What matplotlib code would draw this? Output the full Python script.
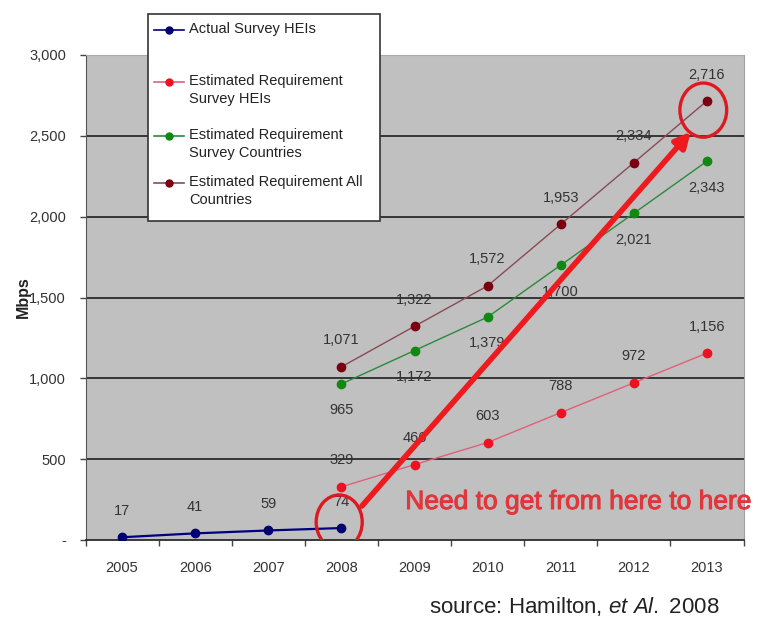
import matplotlib
matplotlib.use('Agg')
import matplotlib.pyplot as plt
import matplotlib.ticker as mtick
import matplotlib.patheffects as pe
from matplotlib.patches import Ellipse, Rectangle
from matplotlib.lines import Line2D

plt.rcParams['font.family'] = ['Liberation Sans', 'DejaVu Sans']
plt.rcParams['mathtext.fontset'] = 'custom'
plt.rcParams['mathtext.rm'] = 'Liberation Sans'
plt.rcParams['mathtext.it'] = 'Liberation Sans:italic'

# años y series (Mbps)
anios = ['2005', '2006', '2007', '2008', '2009', '2010', '2011', '2012', '2013']
actual_heis = [17, 41, 59, 74]                      # 2005-2008
req_heis = [329, 466, 603, 788, 972, 1156]          # 2008-2013
req_paises_encuesta = [965, 1172, 1379, 1700, 2021, 2343]
req_todos_paises = [1071, 1322, 1572, 1953, 2334, 2716]

etiquetas_leyenda = ['Actual Survey HEIs',
                     'Estimated Requirement\nSurvey HEIs',
                     'Estimated Requirement\nSurvey Countries',
                     'Estimated Requirement All\nCountries']

x_act = list(range(0, 4))
x_est = list(range(3, 9))

fig = plt.figure(figsize=(7.63, 6.2), dpi=100)
ax = fig.add_axes([85.5 / 763, 80 / 620, 658 / 763, 485 / 620])
ax.set_facecolor('#c0c0c0')

# líneas de las series
series = [
    (x_act, actual_heis, '#000080', '#000070', 'above'),
    (x_est, req_heis, '#e0607a', '#ee1122', 'above'),
    (x_est, req_paises_encuesta, '#2a8a3a', '#118811', 'below'),
    (x_est, req_todos_paises, '#8a4a55', '#7a0010', 'above'),
]
for xs, ys, c_line, c_mark, pos in series:
    lw = 1.6 if c_line == '#000080' else 1.0
    ax.plot(xs, ys, color=c_line, lw=lw, zorder=3)
    ax.plot(xs, ys, ls='none', marker='o', ms=6, color=c_mark, zorder=4)
    for xi, yi in zip(xs, ys):
        dy = 19 if pos == 'above' else -19
        ax.annotate(f'{yi:,}', (xi, yi), xytext=(0, dy), textcoords='offset points',
                    ha='center', va='center', fontsize=10.5, color='#333333', zorder=5)

# ejes
ax.set_xlim(-0.5, 8.5)
ax.set_ylim(0, 3000)
ax.set_xticks(range(len(anios)))
ax.set_xticklabels(anios)
ax.set_xticks([i + 0.5 for i in range(-1, 9)], minor=True)
ax.tick_params(axis='x', which='major', length=0, pad=15, labelsize=10.5, labelcolor='#333333')
ax.tick_params(axis='x', which='minor', length=4, width=1, color='#444444', direction='out')
ax.set_yticks(range(0, 3001, 500))
ax.yaxis.set_major_formatter(mtick.FuncFormatter(lambda v, p: '-' if v == 0 else format(int(v), ',')))
ax.tick_params(axis='y', length=4, width=1, color='#444444', pad=10, labelsize=10.5, labelcolor='#333333')
for v in range(500, 3000, 500):
    ax.axhline(v, color='#2b2b2b', lw=1.3, zorder=1)
ax.spines['bottom'].set_color('#2b2b2b')
ax.spines['bottom'].set_linewidth(1.3)
ax.spines['left'].set_color('#555555')
ax.spines['top'].set_color('#a8a8a8')
ax.spines['right'].set_color('#a0a0a0')
fig.text(23 / 763, 1 - 297 / 620, 'Mbps', rotation=90, ha='center', va='center',
         fontsize=11.5, fontweight='bold', color='#222222')

# círculos y flecha de la anotación
rojo = '#ee1a1e'
ax.add_patch(Ellipse((2.97, 111), 0.63, 335, fill=False, ec='#dd1a22', lw=2.4, zorder=6))
ax.add_patch(Ellipse((7.95, 2659), 0.64, 335, fill=False, ec='#dd1a22', lw=2.4, zorder=6))
ax.annotate('', xy=(7.78, 2525), xytext=(3.28, 210),
            arrowprops=dict(arrowstyle='-|>,head_length=0.9,head_width=0.45', color=rojo,
                            lw=4, shrinkA=0, shrinkB=0), zorder=6)
ax.text(6.24, 235, 'Need to get from here to here', ha='center', va='center',
        fontsize=19, color='#e0363c', zorder=6,
        path_effects=[pe.withStroke(linewidth=0.7, foreground='#e0363c')])

fig.text(574 / 763, 1 - 607 / 620, r'source: Hamilton, $et\ Al.$ 2008', ha='center', va='center',
         fontsize=16, color='#222222')

# leyenda dibujada a mano
fig.patches.append(Rectangle((148 / 763, 1 - 221 / 620), 232 / 763, 207 / 620,
                             transform=fig.transFigure, facecolor='white', edgecolor='#333333',
                             lw=1.2, zorder=10, figure=fig))
filas_y = [30, 82, 136, 183]
colores_ley = [('#000080', '#000070'), ('#e0607a', '#ee1122'),
               ('#2a8a3a', '#118811'), ('#8a4a55', '#7a0010')]
for fy, (cl, cm), txt in zip(filas_y, colores_ley, etiquetas_leyenda):
    yy = 1 - fy / 620
    fig.lines.append(Line2D([154 / 763, 184 / 763], [yy, yy], transform=fig.transFigure,
                            color=cl, lw=1.2, zorder=11, figure=fig))
    fig.lines.append(Line2D([169 / 763], [yy], transform=fig.transFigure, marker='o', ms=5,
                            color=cm, zorder=12, figure=fig))
    fig.text(189 / 763, yy + 8 / 620, txt, ha='left', va='top', fontsize=10.5,
             color='#222222', linespacing=1.35, zorder=12)

plt.savefig('out.png', dpi=100)
